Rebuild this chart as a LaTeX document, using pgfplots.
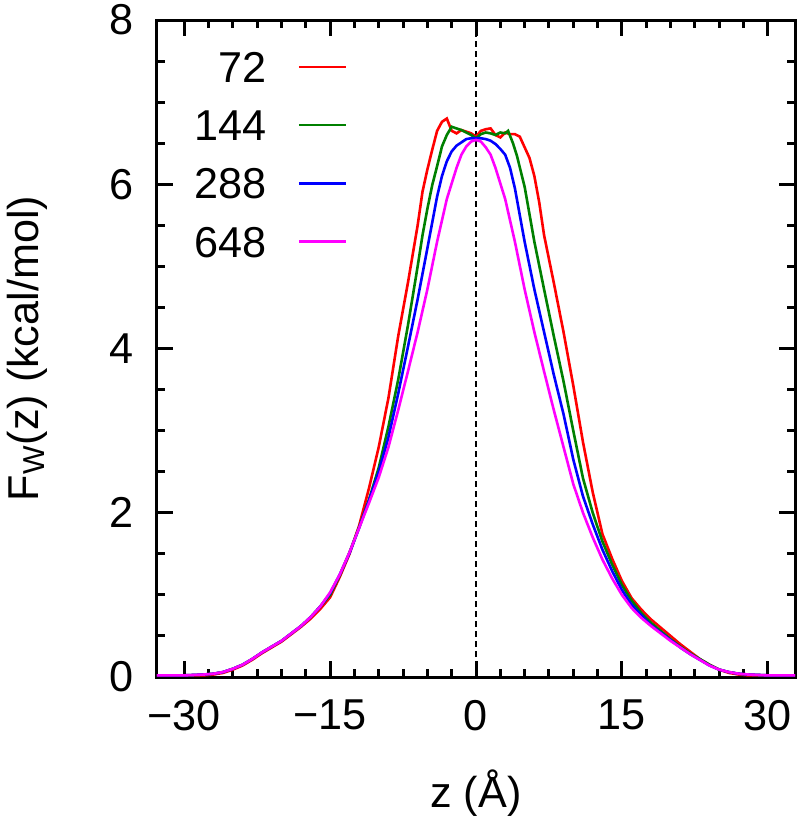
\documentclass[border=0pt]{standalone}
\usepackage{fontspec}
\setmainfont{Liberation Sans}
\usepackage{pgfplots}
\pgfplotsset{compat=1.18}
\definecolor{gpred}{RGB}{255,0,0}
\definecolor{gpgreen}{RGB}{0,128,0}
\definecolor{gpblue}{RGB}{0,0,255}
\definecolor{gpmag}{RGB}{255,0,255}

\begin{document}
\begin{tikzpicture}
\begin{axis}[
    scale only axis,
    width=319pt, height=328.5pt,
    xmin=-32.8, xmax=32.8, ymin=0, ymax=8,
    xtick={-30,-15,0,15,30},
    xticklabels={−30,−15,0,15,30},
    minor x tick num=5,
    ytick={0,2,4,6,8},
    minor y tick num=3,
    tick align=inside,
    major tick length=8pt, minor tick length=4pt,
    axis line style={line width=1.5pt},
    every tick/.style={black, line width=1.5pt},
    font=\fontsize{21.6}{26}\selectfont,
    /pgf/number format/assume math mode=true,
    xticklabel style={yshift=-8pt},
    yticklabel style={xshift=-8pt},
    xlabel={z (Å)},
    ylabel={F\textsubscript{W}(z) (kcal/mol)},
    xlabel style={at={(axis description cs:0.5,0)}, anchor=base, yshift=-65pt},
    ylabel style={at={(axis description cs:-0.186,0.5)}, anchor=base},
    legend plot pos=right,
    legend cell align=right,
    legend image code/.code={\path[draw=none] (0pt,0pt) -- (13pt,0pt);
        \draw[#1, line width=1.3pt] (13pt,0pt) -- (36.5pt,0pt);},
    legend style={draw=none, fill=none, at={(axis description cs:0.04,0.968)},
        anchor=north west, row sep=7.6pt,
        nodes={inner sep=3pt, text height=15.5pt, text depth=0pt}},
]

\addplot[black, line width=0.9pt, dash pattern=on 3pt off 2pt, forget plot]
    coordinates {(0,0) (0,8)};

% 72
\addplot[gpred, line width=1.3pt] coordinates {
(-32.8,0.02) (-30,0.02) (-28,0.02) (-27,0.03) (-26,0.05) (-25,0.09) (-24,0.14)
(-23,0.21) (-22,0.29) (-21,0.36) (-20,0.43) (-19,0.52) (-18,0.61) (-17,0.71)
(-16,0.83) (-15,0.97) (-14,1.22) (-13,1.5) (-12,1.85) (-11,2.3) (-10,2.8)
(-9,3.4) (-8,4.15) (-7,4.8) (-6,5.5) (-5.5,5.91) (-5,6.18) (-4.5,6.42)
(-4,6.65) (-3.5,6.76) (-3,6.8) (-2.5,6.65) (-2,6.62) (-1.5,6.66) (-1,6.64)
(-0.5,6.62) (0,6.58) (0.5,6.65) (1,6.67) (1.5,6.68) (2,6.6) (2.5,6.57)
(3,6.63) (3.5,6.61) (4,6.61) (4.5,6.58) (5,6.45) (5.5,6.32) (6,6.1)
(6.5,5.78) (7,5.38) (8,4.8) (9,4.2) (10,3.55) (11,2.86) (12,2.25)
(13,1.74) (14,1.44) (15,1.17) (16,0.96) (17,0.82) (18,0.7) (19,0.6)
(20,0.5) (21,0.4) (22,0.31) (23,0.22) (24,0.15) (25,0.09) (26,0.05)
(27,0.03) (28,0.02) (32.8,0.02)
};
\addlegendentry{72}

% 144
\addplot[gpgreen, line width=1.3pt] coordinates {
(-32.8,0.02) (-30,0.02) (-28,0.03) (-27,0.04) (-26,0.06) (-25,0.1) (-24,0.15)
(-23,0.22) (-22,0.3) (-21,0.37) (-20,0.44) (-19,0.53) (-18,0.62) (-17,0.73)
(-16,0.86) (-15,1.0) (-14,1.24) (-13,1.52) (-12,1.83) (-11,2.16) (-10,2.55)
(-9,3.05) (-8,3.62) (-7,4.28) (-6,5.0) (-5.5,5.38) (-5,5.7) (-4.5,5.99)
(-4,6.22) (-3.5,6.46) (-3,6.6) (-2.5,6.7) (-2,6.68) (-1.5,6.66) (-1,6.63)
(-0.5,6.6) (0,6.56) (0.5,6.61) (1,6.63) (1.5,6.62) (2,6.6) (2.5,6.63)
(3,6.62) (3.3,6.65) (3.8,6.5) (4.2,6.35) (5,5.97) (6,5.3) (7,4.72)
(8,4.15) (9,3.6) (10,3.0) (11,2.42) (12,2.0) (13,1.65) (14,1.37)
(15,1.12) (16,0.93) (17,0.78) (18,0.66) (19,0.56) (20,0.46) (21,0.37)
(22,0.29) (23,0.22) (24,0.15) (25,0.09) (26,0.06) (27,0.04) (28,0.03)
(30,0.02) (32.8,0.02)
};
\addlegendentry{144}

% 288
\addplot[gpblue, line width=1.3pt] coordinates {
(-32.8,0.02) (-30,0.02) (-28,0.03) (-27,0.04) (-26,0.06) (-25,0.1) (-24,0.15)
(-23,0.22) (-22,0.3) (-21,0.37) (-20,0.44) (-19,0.53) (-18,0.62) (-17,0.73)
(-16,0.86) (-15,1.02) (-14,1.25) (-13,1.51) (-12,1.82) (-11,2.15) (-10,2.5)
(-9,2.92) (-8,3.45) (-7,4.02) (-6,4.6) (-5,5.22) (-4,5.85) (-3.5,6.1)
(-3,6.28) (-2.5,6.4) (-2,6.47) (-1.5,6.51) (-1,6.55) (-0.5,6.56) (0,6.56)
(0.5,6.56) (1,6.55) (1.5,6.53) (2,6.49) (2.5,6.43) (3,6.36) (3.5,6.2)
(4,5.95) (5,5.3) (6,4.72) (7,4.2) (8,3.68) (9,3.2) (10,2.65) (11,2.2)
(12,1.86) (13,1.55) (14,1.29) (15,1.06) (16,0.88) (17,0.75) (18,0.63)
(19,0.54) (20,0.45) (21,0.36) (22,0.28) (23,0.21) (24,0.14) (25,0.09)
(26,0.06) (27,0.04) (28,0.03) (30,0.02) (32.8,0.02)
};
\addlegendentry{288}

% 648
\addplot[gpmag, line width=1.3pt] coordinates {
(-32.8,0.02) (-30,0.02) (-28,0.03) (-27,0.04) (-26,0.06) (-25,0.1) (-24,0.15)
(-23,0.22) (-22,0.3) (-21,0.37) (-20,0.44) (-19,0.53) (-18,0.62) (-17,0.73)
(-16,0.86) (-15,1.03) (-14,1.25) (-13,1.52) (-12,1.82) (-11,2.12) (-10,2.43)
(-9,2.8) (-8,3.25) (-7,3.72) (-6,4.2) (-5,4.72) (-4,5.3) (-3,5.82)
(-2,6.2) (-1.5,6.36) (-1,6.46) (-0.5,6.52) (0,6.54) (0.5,6.52) (1,6.45)
(1.5,6.36) (2,6.2) (3,5.82) (4,5.3) (5,4.72) (6,4.2) (7,3.72) (8,3.25)
(9,2.8) (10,2.35) (11,2.0) (12,1.7) (13,1.43) (14,1.2) (15,1.0)
(16,0.84) (17,0.72) (18,0.62) (19,0.53) (20,0.44) (21,0.36) (22,0.28)
(23,0.21) (24,0.14) (25,0.09) (26,0.06) (27,0.04) (28,0.03) (30,0.02)
(32.8,0.02)
};
\addlegendentry{648}

\end{axis}
\pgfresetboundingbox
\path ([shift={(-78.5pt,-70pt)}]current axis.south west)
    rectangle ([shift={(2.5pt,10pt)}]current axis.north east);
\end{tikzpicture}
\end{document}
